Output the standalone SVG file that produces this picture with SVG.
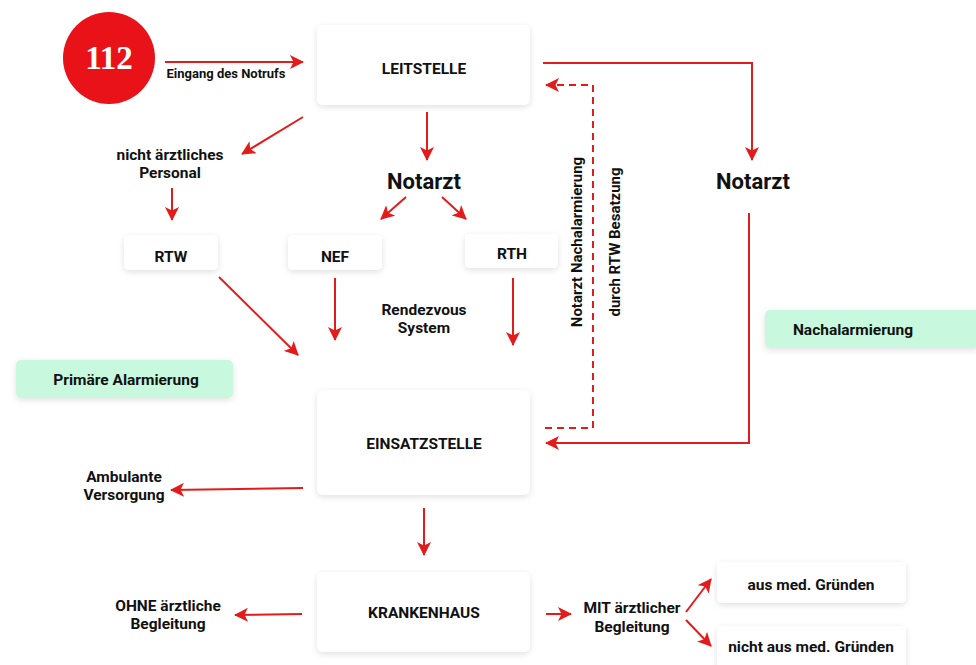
<svg xmlns="http://www.w3.org/2000/svg" width="976" height="665" viewBox="0 0 976 665">
<style>
.t{font-family:Roboto,"Liberation Sans",sans-serif;font-weight:bold;fill:#111;text-anchor:middle;font-size:15.5px}
.box{fill:#fff;filter:url(#sh)}
.g{fill:#c8f9de;filter:url(#sh)}
.c{stroke:#e31b1b;stroke-width:2;fill:none;marker-end:url(#ah)}
.d{stroke:#e31b1b;stroke-width:2;fill:none;stroke-dasharray:7 5;marker-end:url(#ah)}
</style>
<defs>
<filter id="sh" x="-20%" y="-30%" width="140%" height="160%">
<feDropShadow dx="0" dy="2" stdDeviation="3" flood-color="#000" flood-opacity="0.12"/>
</filter>
<marker id="ah" viewBox="0 0 14 14" refX="13" refY="7" markerWidth="14" markerHeight="14" markerUnits="userSpaceOnUse" orient="auto">
<path d="M0,0 L14,7 L0,14 L3.5,7 z" fill="#e31b1b"/>
</marker>
</defs>
<rect width="976" height="665" fill="#fff"/>

<g id="n112">
<circle cx="109" cy="58" r="46" fill="#ea1219"/>
<text x="109" y="69" style="font-family:'Liberation Serif','DejaVu Serif',serif;font-size:33px;font-weight:bold;fill:#fff;text-anchor:middle">112</text>
</g>
<g id="leitstelle"><rect class="box" x="317" y="25" width="213" height="80" rx="6"/><text class="t" x="424" y="74">LEITSTELLE</text></g>
<g id="nichtaerztlich"><text class="t" x="170" y="160">nicht ärztliches</text><text class="t" x="170" y="178">Personal</text></g>
<g id="notarzt1"><text class="t" x="424" y="189" style="font-size:22px">Notarzt</text></g>
<g id="notarzt2"><text class="t" x="753" y="189" style="font-size:22px">Notarzt</text></g>
<g id="rtw"><rect class="box" x="124" y="235" width="94" height="35" rx="5"/><text class="t" x="171" y="262">RTW</text></g>
<g id="nef"><rect class="box" x="288" y="235" width="94" height="35" rx="5"/><text class="t" x="335" y="262">NEF</text></g>
<g id="rth"><rect class="box" x="465" y="234" width="93" height="34" rx="5"/><text class="t" x="512" y="259">RTH</text></g>
<g id="rendezvous"><text class="t" x="424" y="315">Rendezvous</text><text class="t" x="424" y="333">System</text></g>
<g id="primaer"><rect class="g" x="16" y="360" width="217" height="38" rx="5"/><text class="t" x="126" y="385">Primäre Alarmierung</text></g>
<g id="nachalarm"><rect class="g" x="765" y="310" width="215" height="38" rx="5"/><text class="t" x="853" y="335">Nachalarmierung</text></g>
<g id="einsatzstelle"><rect class="box" x="317" y="390" width="213" height="105" rx="6"/><text class="t" x="424" y="449">EINSATZSTELLE</text></g>
<g id="ambulant"><text class="t" x="124" y="482">Ambulante</text><text class="t" x="124" y="500">Versorgung</text></g>
<g id="krankenhaus"><rect class="box" x="317" y="572" width="213" height="80" rx="6"/><text class="t" x="424" y="618">KRANKENHAUS</text></g>
<g id="ohne"><text class="t" x="168" y="611">OHNE ärztliche</text><text class="t" x="168" y="629">Begleitung</text></g>
<g id="mit"><text class="t" x="632" y="613">MIT ärztlicher</text><text class="t" x="632" y="632">Begleitung</text></g>
<g id="ausmed"><rect class="box" x="717" y="562" width="189" height="41" rx="5"/><text class="t" x="811" y="590">aus med. Gründen</text></g>
<g id="nichtausmed"><rect class="box" x="717" y="626" width="189" height="45" rx="5"/><text class="t" x="811" y="652">nicht aus med. Gründen</text></g>
<g id="vlabels">
<text class="t" style="font-size:15px" transform="translate(582,242) rotate(-90)">Notarzt Nachalarmierung</text>
<text class="t" style="font-size:15px" transform="translate(620,242) rotate(-90)">durch RTW Besatzung</text>
</g>

<g id="connectors">
<line class="c" x1="165" y1="62" x2="303" y2="62"/>
<text class="t" x="226" y="78" style="font-size:13px">Eingang des Notrufs</text>
<line class="c" x1="303" y1="117" x2="242" y2="154"/>
<line class="c" x1="172" y1="188" x2="172" y2="220"/>
<line class="c" x1="427" y1="112" x2="427" y2="160"/>
<line class="c" x1="406" y1="197" x2="381" y2="219"/>
<line class="c" x1="442" y1="197" x2="466" y2="219"/>
<line class="c" x1="219" y1="277" x2="298" y2="355"/>
<line class="c" x1="335" y1="278" x2="335" y2="340"/>
<line class="c" x1="513" y1="278" x2="513" y2="345"/>
<polyline class="c" points="543,63 752,63 752,160"/>
<polyline class="c" points="749,213 749,443 546,443"/>
<polyline class="d" points="545,428 593,428 593,85 546,85"/>
<line class="c" x1="303" y1="488" x2="171" y2="490"/>
<line class="c" x1="424" y1="508" x2="424" y2="555"/>
<line class="c" x1="302" y1="614" x2="235" y2="615"/>
<line class="c" x1="546" y1="614" x2="571" y2="614"/>
<line class="c" x1="686" y1="612" x2="711" y2="579"/>
<line class="c" x1="686" y1="620" x2="711" y2="646"/>
</g>
</svg>
